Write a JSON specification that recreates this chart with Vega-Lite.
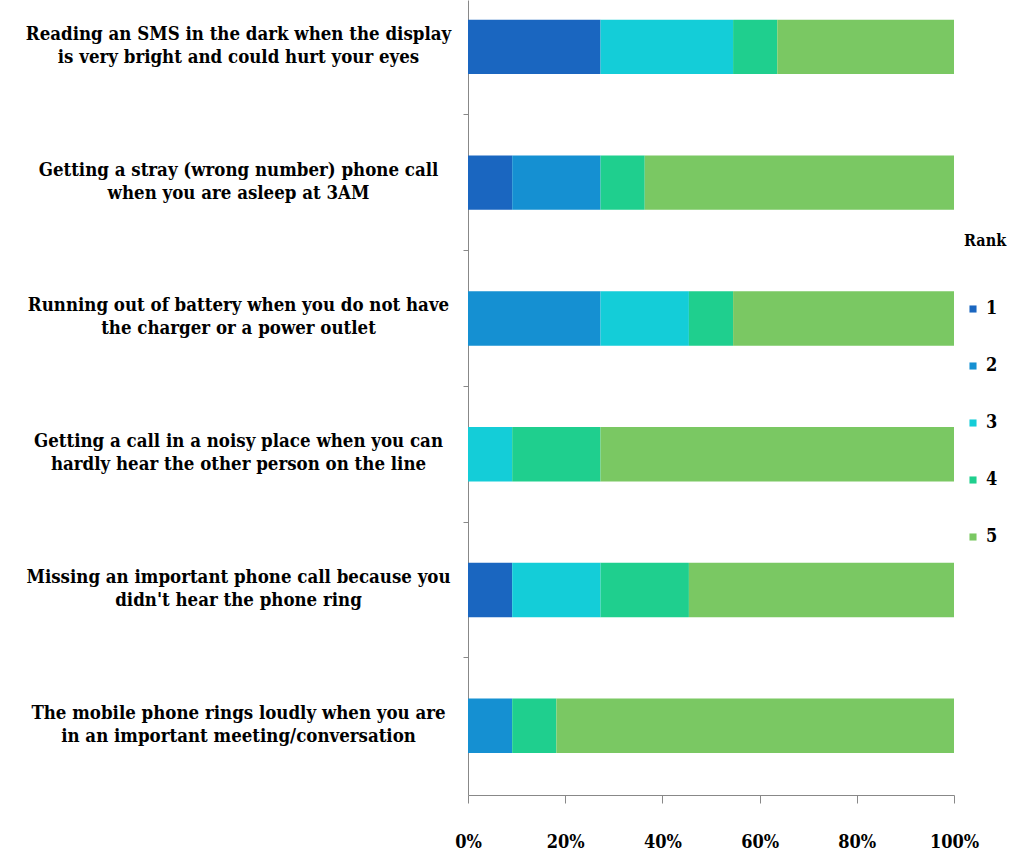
{
  "$schema": "https://vega.github.io/schema/vega-lite/v6.json",
  "width": 486,
  "height": 795,
  "autosize": "none",
  "padding": {"left": 468, "top": 0, "right": 56, "bottom": 71},
  "background": "white",
  "config": {"font": "DejaVu Serif Condensed", "view": {"stroke": null}},
  "data": {
    "values": [
      {"item": "Reading an SMS in the dark when the display|is very bright and could hurt your eyes", "rank": "1", "count": 3},
      {"item": "Reading an SMS in the dark when the display|is very bright and could hurt your eyes", "rank": "3", "count": 3},
      {"item": "Reading an SMS in the dark when the display|is very bright and could hurt your eyes", "rank": "4", "count": 1},
      {"item": "Reading an SMS in the dark when the display|is very bright and could hurt your eyes", "rank": "5", "count": 4},
      {"item": "Getting a stray (wrong number) phone call|when you are asleep at 3AM", "rank": "1", "count": 1},
      {"item": "Getting a stray (wrong number) phone call|when you are asleep at 3AM", "rank": "2", "count": 2},
      {"item": "Getting a stray (wrong number) phone call|when you are asleep at 3AM", "rank": "4", "count": 1},
      {"item": "Getting a stray (wrong number) phone call|when you are asleep at 3AM", "rank": "5", "count": 7},
      {"item": "Running out of battery when you do not have|the charger or a power outlet", "rank": "2", "count": 3},
      {"item": "Running out of battery when you do not have|the charger or a power outlet", "rank": "3", "count": 2},
      {"item": "Running out of battery when you do not have|the charger or a power outlet", "rank": "4", "count": 1},
      {"item": "Running out of battery when you do not have|the charger or a power outlet", "rank": "5", "count": 5},
      {"item": "Getting a call in a noisy place when you can|hardly hear the other person on the line", "rank": "3", "count": 1},
      {"item": "Getting a call in a noisy place when you can|hardly hear the other person on the line", "rank": "4", "count": 2},
      {"item": "Getting a call in a noisy place when you can|hardly hear the other person on the line", "rank": "5", "count": 8},
      {"item": "Missing an important phone call because you|didn't hear the phone ring", "rank": "1", "count": 1},
      {"item": "Missing an important phone call because you|didn't hear the phone ring", "rank": "3", "count": 2},
      {"item": "Missing an important phone call because you|didn't hear the phone ring", "rank": "4", "count": 2},
      {"item": "Missing an important phone call because you|didn't hear the phone ring", "rank": "5", "count": 6},
      {"item": "The mobile phone rings loudly when you are|in an important meeting/conversation", "rank": "2", "count": 1},
      {"item": "The mobile phone rings loudly when you are|in an important meeting/conversation", "rank": "4", "count": 1},
      {"item": "The mobile phone rings loudly when you are|in an important meeting/conversation", "rank": "5", "count": 9}
    ]
  },
  "mark": {"type": "bar"},
  "encoding": {
    "y": {
      "field": "item",
      "type": "nominal",
      "sort": null,
      "title": null,
      "scale": {"paddingInner": 0.6, "paddingOuter": 0.228, "align": 0.32},
      "axis": {
        "labelExpr": "split(datum.value, '|')",
        "labelAlign": "center",
        "labelBaseline": "middle",
        "labelPadding": 225,
        "labelLimit": 0,
        "labelFontSize": 18.5,
        "labelFontWeight": "bold",
        "labelColor": "black",
        "labelLineHeight": 23,
        "bandPosition": -0.75,
        "labelOffset": -13,
        "domainColor": "#888888",
        "tickColor": "#888888",
        "tickSize": 5
      }
    },
    "x": {
      "field": "count",
      "type": "quantitative",
      "stack": "normalize",
      "title": null,
      "axis": {
        "format": ".0%",
        "values": [0, 0.2, 0.4, 0.6, 0.8, 1],
        "grid": false,
        "labelFlush": false,
        "labelFontSize": 18,
        "labelFontWeight": "bold",
        "labelColor": "black",
        "labelPadding": 30,
        "tickSize": 8,
        "domainColor": "#888888",
        "tickColor": "#888888"
      }
    },
    "color": {
      "field": "rank",
      "type": "nominal",
      "scale": {"domain": ["1", "2", "3", "4", "5"], "range": ["#1a66c0", "#1590d2", "#14cdd8", "#1fcf8e", "#7ac863"]},
      "legend": {
        "orient": "none",
        "legendX": 496,
        "legendY": 233,
        "title": "Rank",
        "titleFontSize": 16,
        "titleFontWeight": "bold",
        "titleColor": "black",
        "titlePadding": 51,
        "symbolType": "square",
        "symbolSize": 50,
        "symbolStrokeWidth": 0,
        "labelFontSize": 18,
        "labelFontWeight": "bold",
        "labelColor": "black",
        "labelOffset": 4,
        "rowPadding": 39
      }
    }
  }
}
